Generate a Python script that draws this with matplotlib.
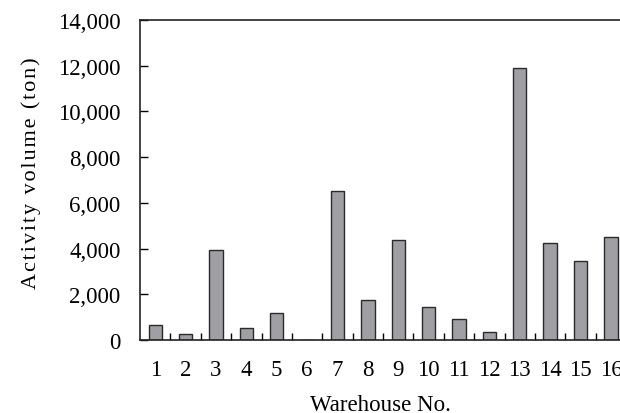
import matplotlib.pyplot as plt
import numpy as np
from matplotlib.ticker import FuncFormatter, FixedLocator

plt.rcParams['font.family'] = ['Liberation Serif', 'DejaVu Serif']

warehouses = list(range(1, 17))
volume = [670, 275, 3940, 510, 1165, 0, 6530, 1735,
          4390, 1445, 905, 335, 11900, 4230, 3440, 4490]

fig = plt.figure(figsize=(6.2, 4.14), dpi=100)
ax = fig.add_axes([140/620, 1-341/414, 1-140/620, 320/414])

ax.bar(warehouses, volume, width=0.44, color='#a0a0a4', edgecolor='#2a2a2a', linewidth=1.0)

ax.set_xlim(0.5, 16.3)
ax.set_ylim(0, 14000)
ax.set_yticks(np.arange(0, 14001, 2000))
ax.yaxis.set_major_formatter(FuncFormatter(lambda v, p: f'{int(v):,}'))
ax.set_xticks(warehouses)
ax.xaxis.set_minor_locator(FixedLocator(np.arange(1.5, 16.5, 1)))

fs = 16.5
ax.tick_params(axis='x', which='major', length=0, pad=14, labelsize=fs)
ax.tick_params(axis='x', which='minor', direction='in', length=5, width=1)
ax.tick_params(axis='y', direction='in', length=6, width=1, pad=14, labelsize=fs)

for s in ['left', 'bottom', 'top']:
    ax.spines[s].set_linewidth(1.2)
    ax.spines[s].set_color('#222222')
ax.spines['right'].set_visible(False)

ax.set_xlabel('Warehouse No.', fontsize=fs, labelpad=10)
ylab = '\u200a'.join('Activity volume (ton)')
ax.set_ylabel(ylab, fontsize=16)
ax.yaxis.set_label_coords(-0.206, 0.525)

fig.savefig('out.png', dpi=100)
